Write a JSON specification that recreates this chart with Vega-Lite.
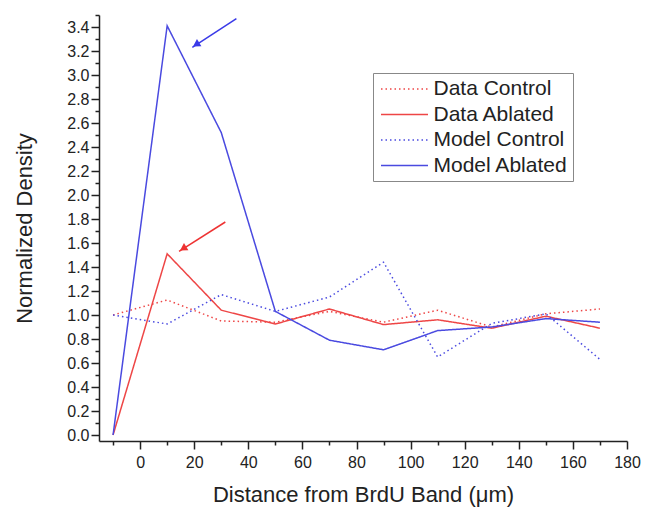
{
  "$schema": "https://vega.github.io/schema/vega-lite/v6.json",
  "width": 528,
  "height": 426,
  "autosize": "none",
  "padding": {"left": 99, "top": 15, "right": 28, "bottom": 67},
  "background": "white",
  "config": {
    "view": {"stroke": null},
    "axis": {
      "domainColor": "#222",
      "domainWidth": 1.5,
      "tickColor": "#222",
      "tickWidth": 1.5,
      "labelFont": "Liberation Sans",
      "labelFontSize": 16,
      "labelColor": "#222",
      "titleFont": "Liberation Sans",
      "titleFontSize": 22,
      "titleFontWeight": "normal",
      "titleColor": "#222",
      "grid": false,
      "labelOverlap": false
    }
  },
  "resolve": {"axis": {"x": "independent", "y": "independent"}},
  "datasets": {
    "curves": [
      {"series": "Data Control", "d": -10, "v": 1.0},
      {"series": "Data Control", "d": 10, "v": 1.125},
      {"series": "Data Control", "d": 30, "v": 0.95},
      {"series": "Data Control", "d": 50, "v": 0.94},
      {"series": "Data Control", "d": 70, "v": 1.03},
      {"series": "Data Control", "d": 90, "v": 0.94},
      {"series": "Data Control", "d": 110, "v": 1.04},
      {"series": "Data Control", "d": 130, "v": 0.9},
      {"series": "Data Control", "d": 150, "v": 1.01},
      {"series": "Data Control", "d": 170, "v": 1.05},
      {"series": "Data Ablated", "d": -10, "v": 0.0},
      {"series": "Data Ablated", "d": 10, "v": 1.51},
      {"series": "Data Ablated", "d": 30, "v": 1.04},
      {"series": "Data Ablated", "d": 50, "v": 0.925},
      {"series": "Data Ablated", "d": 70, "v": 1.05},
      {"series": "Data Ablated", "d": 90, "v": 0.92},
      {"series": "Data Ablated", "d": 110, "v": 0.96},
      {"series": "Data Ablated", "d": 130, "v": 0.89},
      {"series": "Data Ablated", "d": 150, "v": 0.99},
      {"series": "Data Ablated", "d": 170, "v": 0.89},
      {"series": "Model Control", "d": -10, "v": 1.0},
      {"series": "Model Control", "d": 10, "v": 0.925},
      {"series": "Model Control", "d": 30, "v": 1.17},
      {"series": "Model Control", "d": 50, "v": 1.03},
      {"series": "Model Control", "d": 70, "v": 1.15},
      {"series": "Model Control", "d": 90, "v": 1.44},
      {"series": "Model Control", "d": 110, "v": 0.65},
      {"series": "Model Control", "d": 130, "v": 0.93},
      {"series": "Model Control", "d": 150, "v": 1.01},
      {"series": "Model Control", "d": 170, "v": 0.63},
      {"series": "Model Ablated", "d": -10, "v": 0.0},
      {"series": "Model Ablated", "d": 10, "v": 3.41},
      {"series": "Model Ablated", "d": 30, "v": 2.52},
      {"series": "Model Ablated", "d": 50, "v": 1.03},
      {"series": "Model Ablated", "d": 70, "v": 0.79},
      {"series": "Model Ablated", "d": 90, "v": 0.71},
      {"series": "Model Ablated", "d": 110, "v": 0.87},
      {"series": "Model Ablated", "d": 130, "v": 0.9},
      {"series": "Model Ablated", "d": 150, "v": 0.97},
      {"series": "Model Ablated", "d": 170, "v": 0.94}
    ],
    "arrows": [
      {"series": "Model Ablated", "x": 35.6, "y": 3.47, "x2": 19.3, "y2": 3.23, "hx": 20.7, "hy": 3.254},
      {"series": "Data Ablated", "x": 31.5, "y": 1.775, "x2": 14.4, "y2": 1.53, "hx": 15.9, "hy": 1.554}
    ]
  },
  "layer": [
    {
      "data": {"name": "curves"},
      "mark": {"type": "line", "strokeWidth": 1.5},
      "encoding": {
        "x": {
          "field": "d", "type": "quantitative",
          "scale": {"domain": [-15.2, 180], "nice": false, "zero": false},
          "axis": {
            "orient": "bottom",
            "title": "Distance from BrdU Band (μm)",
            "values": [0, 20, 40, 60, 80, 100, 120, 140, 160, 180],
            "tickSize": 8,
            "labelPadding": 5,
            "titlePadding": 14,
            "labelFlush": false,
            "labelOverlap": false
          }
        },
        "y": {
          "field": "v", "type": "quantitative",
          "scale": {"domain": [-0.05, 3.5], "nice": false, "zero": false},
          "axis": {
            "orient": "left",
            "title": "Normalized Density",
            "values": [0, 0.2, 0.4, 0.6, 0.8, 1.0, 1.2, 1.4, 1.6, 1.8, 2.0, 2.2, 2.4, 2.6, 2.8, 3.0, 3.2, 3.4],
            "format": ".1f",
            "tickSize": 8,
            "labelPadding": 2,
            "titlePadding": 30,
            "labelFlush": false,
            "labelOverlap": false
          }
        },
        "color": {
          "field": "series", "type": "nominal",
          "scale": {
            "domain": ["Data Control", "Data Ablated", "Model Control", "Model Ablated"],
            "range": ["#ee4646", "#ee4646", "#4a4ae0", "#4a4ae0"]
          },
          "legend": {
            "title": null,
            "orient": "none",
            "legendX": 274,
            "legendY": 58,
            "padding": 5,
            "strokeColor": "#888",
            "fillColor": "white",
            "labelFont": "Liberation Sans",
            "labelFontSize": 21,
            "labelColor": "#222",
            "labelOffset": 18,
            "symbolOffset": 15.5,
            "symbolType": "M-2.35,0H2.35",
            "symbolSize": 400,
            "symbolStrokeWidth": 1.5,
            "rowPadding": 4.5
          }
        },
        "strokeDash": {
          "field": "series", "type": "nominal",
          "scale": {
            "domain": ["Data Control", "Data Ablated", "Model Control", "Model Ablated"],
            "range": [[1.5, 3], [1, 0], [1.5, 3], [1, 0]]
          },
          "legend": {
            "title": null,
            "orient": "none",
            "legendX": 274,
            "legendY": 58,
            "padding": 5,
            "strokeColor": "#888",
            "fillColor": "white",
            "labelFont": "Liberation Sans",
            "labelFontSize": 21,
            "labelColor": "#222",
            "labelOffset": 18,
            "symbolOffset": 15.5,
            "symbolType": "M-2.35,0H2.35",
            "symbolSize": 400,
            "symbolStrokeWidth": 1.5,
            "rowPadding": 4.5
          }
        }
      }
    },
    {
      "data": {"name": "arrows"},
      "mark": {"type": "rule", "strokeWidth": 1.5},
      "encoding": {
        "x": {
          "field": "x", "type": "quantitative",
          "axis": {
            "orient": "bottom",
            "title": null,
            "values": [-10, 10, 30, 50, 70, 90, 110, 130, 150, 170],
            "labels": false,
            "domain": false,
            "tickSize": 4
          }
        },
        "y": {
          "field": "y", "type": "quantitative",
          "axis": {
            "orient": "left",
            "title": null,
            "values": [0.1, 0.3, 0.5, 0.7, 0.9, 1.1, 1.3, 1.5, 1.7, 1.9, 2.1, 2.3, 2.5, 2.7, 2.9, 3.1, 3.3, 3.5],
            "labels": false,
            "domain": false,
            "tickSize": 4
          }
        },
        "x2": {"field": "x2"},
        "y2": {"field": "y2"},
        "color": {"condition": {"test": "datum.series == 'Model Ablated'", "value": "#3a3ae8"}, "value": "#ee3333"}
      }
    },
    {
      "data": {"name": "arrows"},
      "mark": {"type": "point", "shape": "triangle-up", "filled": true, "opacity": 1, "size": 70, "angle": 238},
      "encoding": {
        "x": {"field": "hx", "type": "quantitative", "axis": null},
        "y": {"field": "hy", "type": "quantitative", "axis": null},
        "color": {"condition": {"test": "datum.series == 'Model Ablated'", "value": "#3a3ae8"}, "value": "#ee3333"}
      }
    }
  ]
}
